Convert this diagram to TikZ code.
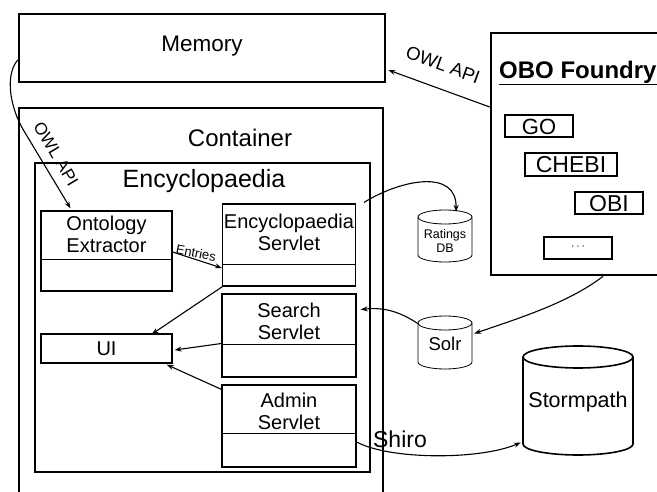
\documentclass[tikz,border=0pt]{standalone}
\usepackage{fontspec}
\setmainfont{Liberation Sans}
\usetikzlibrary{arrows.meta}
\tikzset{
  bigbox/.style={draw, line width=2.6pt, inner sep=0pt},
  midbox/.style={draw, line width=1.3pt, inner sep=0pt},
  inbox/.style={draw, line width=1.3pt, inner sep=0pt},
  lab/.style={inner sep=0pt, font=\fontsize{20}{22}\selectfont},
  title/.style={inner sep=0pt, font=\fontsize{24}{26}\selectfont},
  conn/.style={line width=1.1pt, -{Stealth[length=7pt,width=5pt]}},
}
\newcommand{\mycyl}[6]{% cx, top, w, h, ry, lw
  \draw[line width=#6] (#1-#3/2,#2+#5) -- (#1-#3/2,#2+#4-#5)
    arc[start angle=180, end angle=0, x radius=#3/2, y radius=#5]
    -- (#1+#3/2,#2+#5);
  \draw[line width=#6] (#1,#2+#5) ellipse[x radius=#3/2, y radius=#5];
}
\begin{document}
\begin{tikzpicture}[x=1pt, y=-1pt]
\useasboundingbox (0,0) rectangle (657,492);
\clip (0,0) rectangle (657,492);
\fill[white] (0,0) rectangle (657,492);
% big boxes
\node[bigbox, minimum width=366pt, minimum height=68pt] (mem) at (202,48) {};
\node[title, font=\fontsize{22.5}{24}\selectfont] (memt) at (202,46) {Memory};
\node[bigbox, minimum width=364pt, minimum height=400pt] (cont) at (201,308) {};
\node[title] (contt) at (240,138) {Container};
\node[midbox, minimum width=335pt, minimum height=309pt] (enc) at (202.5,317.5) {};
\node[title, font=\fontsize{25}{27}\selectfont] (enct) at (204,181) {Encyclopaedia};
\node[bigbox, minimum width=190pt, minimum height=242pt] (obo) at (586,154) {};
\node[lab, font=\fontsize{24}{26}\selectfont\bfseries, anchor=west] (obot) at (499,73) {\underline{OBO Foundry}};
% ontology boxes
\node[inbox, minimum width=68pt, minimum height=22pt] (go) at (539,126) {};
\node[lab, font=\fontsize{22}{24}\selectfont] at (539,126.5) {GO};
\node[inbox, minimum width=92pt, minimum height=23pt] (chebi) at (571,164.5) {};
\node[lab, font=\fontsize{23}{25}\selectfont] at (571,165) {CHEBI};
\node[inbox, minimum width=68pt, minimum height=22pt] (obi) at (609,203) {};
\node[lab, font=\fontsize{23}{25}\selectfont] at (609,203.5) {OBI};
\node[inbox, minimum width=68pt, minimum height=22pt] (dots) at (578,248) {};
\node[lab, font=\fontsize{12}{14}\selectfont] at (578,247) {$\cdots$};
% inner components
\node[inbox, minimum width=131pt, minimum height=80pt] (ont) at (106.5,251) {};
\draw[line width=0.9pt] (41,259) -- (172,259);
\node[lab, align=center] (ontt) at (106.5,234) {Ontology\\Extractor};
\node[inbox, minimum width=133pt, minimum height=82pt] (encs) at (289,245) {};
\draw[line width=0.9pt] (222.5,264) -- (355.5,264);
\node[lab, align=center] (encst) at (289,232) {Encyclopaedia\\Servlet};
\node[inbox, minimum width=134pt, minimum height=83pt] (srch) at (289,335.5) {};
\draw[line width=0.9pt] (222,344) -- (356,344);
\node[lab, align=center] (srcht) at (289,321) {Search\\Servlet};
\node[inbox, minimum width=134pt, minimum height=82pt] (adm) at (289,426) {};
\draw[line width=0.9pt] (222,433) -- (356,433);
\node[lab, align=center] (admt) at (289,411) {Admin\\Servlet};
\node[inbox, minimum width=131pt, minimum height=29pt] (ui) at (106.5,348.5) {};
\node[lab] (uit) at (106.5,349) {UI};
% cylinders
\node[minimum width=54pt, minimum height=52pt, inner sep=0pt] (rat) at (445,236) {};
\mycyl{445}{210}{54}{52}{7}{0.8pt}
\node[lab, align=center, font=\fontsize{12.5}{14}\selectfont] at (445,241) {Ratings\\DB};
\node[minimum width=54pt, minimum height=53pt, inner sep=0pt] (solr) at (445,342.5) {};
\mycyl{445}{316}{54}{53}{7}{0.8pt}
\node[lab, font=\fontsize{18.5}{20}\selectfont] at (445,344) {Solr};
\node[minimum width=110pt, minimum height=109pt, inner sep=0pt] (storm) at (578,400.5) {};
\mycyl{578}{346}{110}{109}{11}{1.6pt}
\node[lab, font=\fontsize{21.5}{23}\selectfont] at (578,402) {Stormpath};
% connectors
\coordinate (bend) at (24,131);
\draw[line width=1.1pt] ([yshift=-12pt]mem.west) .. controls (4,76) and (11,110) .. (bend);
\draw[conn] (bend) -- ([xshift=-36pt,yshift=2pt]ont.north);
\node[lab, font=\fontsize{17}{19}\selectfont, rotate=-59.5] at (56,154) {OWL API};
\draw[conn] ([yshift=47pt]obo.west) -- ([xshift=2pt,yshift=-22pt]mem.east);
\node[lab, font=\fontsize{18.5}{20}\selectfont, rotate=-20] at (443,65) {OWL API};
\draw[conn] ([yshift=-1pt]ont.east) -- ([yshift=-23pt]encs.west);
\node[lab, font=\fontsize{13}{15}\selectfont, rotate=-11] at (196,253) {Entries};
\draw[conn] ([xshift=2pt,yshift=1pt]encs.south west) -- ([xshift=45pt,yshift=-1pt]ui.north);
\draw[conn] ([yshift=-8pt]srch.west) -- ([xshift=2pt,yshift=-1.5pt]ui.east);
\draw[conn] ([yshift=-5pt]adm.north west) -- ([xshift=-6pt,yshift=-1pt]ui.south east);
\draw[conn] ([xshift=8pt,yshift=1pt]encs.north east) .. controls (400,180) and (457,168) .. ([xshift=11pt,yshift=-2pt]rat.north);
\draw[conn] ([xshift=17pt]obo.south) .. controls (570,302) and (520,318) .. ([xshift=2pt,yshift=9pt]solr.east);
\draw[conn] ([yshift=19pt]solr.west) .. controls (400,312) and (385,307) .. ([xshift=4pt,yshift=26pt]srch.east);
\draw[conn] ([yshift=-16pt]adm.east) .. controls (390,460) and (480,460) .. ([xshift=-2pt,yshift=-42pt]storm.west);
\node[lab, font=\fontsize{23}{25}\selectfont] at (400,439) {Shiro};
\end{tikzpicture}
\end{document}
